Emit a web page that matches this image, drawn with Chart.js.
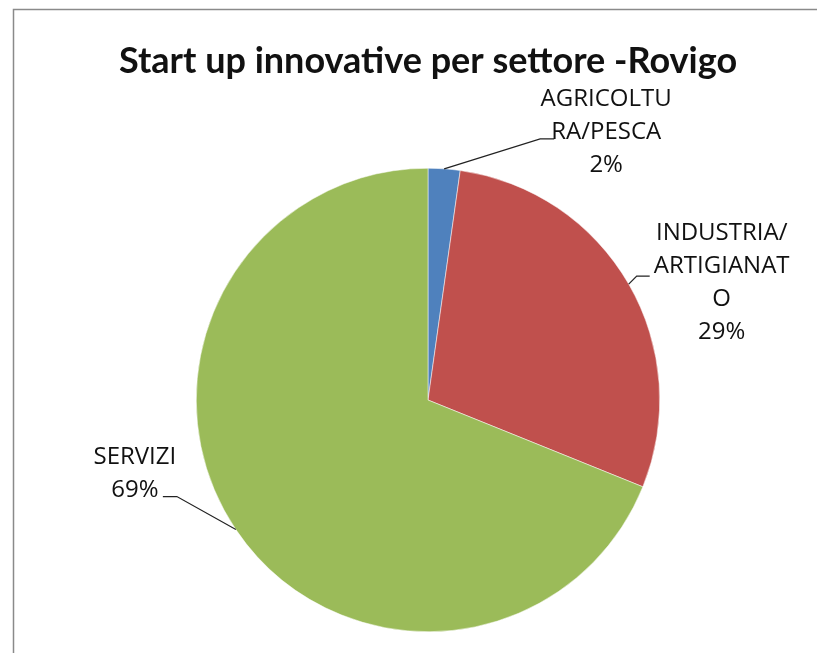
<!DOCTYPE html>
<html>
<head>
<meta charset="utf-8">
<script src="https://cdn.jsdelivr.net/npm/chart.js@4.4.0/dist/chart.umd.min.js"></script>
<style>
  html, body { margin: 0; padding: 0; background: #ffffff; }
  #wrap { width: 817px; height: 653px; position: relative; }
</style>
</head>
<body>
<div id="wrap"><canvas id="c" width="817" height="653"></canvas></div>
<script>
const chartTitle = "Start up innovative per settore -Rovigo";
const categories = ["AGRICOLTURA/PESCA", "INDUSTRIA/ARTIGIANATO", "SERVIZI"];
const labelLines = [["AGRICOLTU", "RA/PESCA"], ["INDUSTRIA/", "ARTIGIANAT", "O"], ["SERVIZI"]];
const values = [1, 13, 31];
const percentLabels = ["2%", "29%", "69%"];
const colors = ["#4F81BD", "#C0504D", "#9BBB59"];

// label layout (offsets relative to slice edge point); text = centre of text block
const labelLayout = [
  { elbow: [96, -30], end: [110, -30], text: [162, -37] },
  { elbow: [8, -8], end: [21, -8], text: [93, -1.5] },
  { elbow: [-59, -33], end: [-73, -33], text: [-101, -56] }
];

const borderPlugin = {
  id: 'frame',
  beforeDraw(chart) {
    const ctx = chart.ctx;
    ctx.save();
    ctx.fillStyle = '#ffffff';
    ctx.fillRect(0, 0, chart.width, chart.height);
    ctx.strokeStyle = '#8a8a8a';
    ctx.lineWidth = 1.5;
    ctx.strokeRect(13.5, 9.5, chart.width + 20, chart.height + 20);
    ctx.restore();
  }
};

const labelPlugin = {
  id: 'pieLabels',
  afterDatasetsDraw(chart) {
    const ctx = chart.ctx;
    const meta = chart.getDatasetMeta(0);
    ctx.save();
    meta.data.forEach((arc, i) => {
      const p = arc.getProps(['x', 'y', 'startAngle', 'endAngle', 'outerRadius'], true);
      const mid = (p.startAngle + p.endAngle) / 2;
      const ex = p.x + Math.cos(mid) * p.outerRadius;
      const ey = p.y + Math.sin(mid) * p.outerRadius;
      const L = labelLayout[i];
      ctx.strokeStyle = '#222222';
      ctx.lineWidth = 1.2;
      ctx.beginPath();
      ctx.moveTo(ex, ey);
      ctx.lineTo(ex + L.elbow[0], ey + L.elbow[1]);
      ctx.lineTo(ex + L.end[0], ey + L.end[1]);
      ctx.stroke();
      const lines = labelLines[i].concat([percentLabels[i]]);
      ctx.fillStyle = '#111111';
      ctx.font = '24px "Open Sans"';
      ctx.textAlign = 'center';
      ctx.textBaseline = 'middle';
      const tx = ex + L.text[0];
      const ty = ey + L.text[1] - (lines.length - 1) * 33 / 2;
      lines.forEach((t, k) => ctx.fillText(t, tx, ty + k * 33));
    });
    ctx.restore();
  }
};

new Chart(document.getElementById('c'), {
  type: 'pie',
  data: {
    labels: categories,
    datasets: [{
      data: values,
      backgroundColor: colors,
      borderColor: '#ffffff',
      borderWidth: 0.5
    }]
  },
  options: {
    responsive: false,
    animation: false,
    layout: { padding: { top: 0, bottom: 21, left: 52, right: 13 } },
    plugins: {
      legend: { display: false },
      tooltip: { enabled: false },
      title: {
        display: true,
        text: chartTitle,
        color: '#111111',
        font: { family: 'Lato', size: 36, weight: 'bold', lineHeight: 1.2 },
        padding: { top: 40, bottom: 84.8 }
      }
    }
  },
  plugins: [borderPlugin, labelPlugin]
});
</script>
</body>
</html>
